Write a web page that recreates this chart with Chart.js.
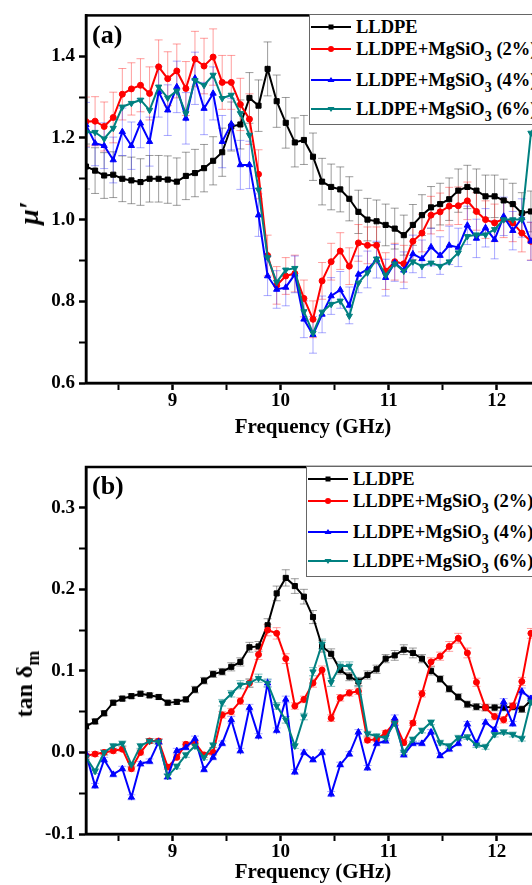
<!DOCTYPE html>
<html>
<head>
<meta charset="utf-8">
<script src="https://cdn.jsdelivr.net/npm/chart.js@4.4.1/dist/chart.umd.min.js"></script>
<style>
  html, body { margin: 0; padding: 0; background: #fff; overflow: hidden; width: 532px; height: 885px; }
  #wrap { position: relative; width: 560px; height: 885px; font-family: 'Liberation Serif', 'Times New Roman', serif; }
  canvas { display: block; }
  .tag { position: absolute; font-weight: bold; font-size: 26px; line-height: 1; }
  .ytitle { position: absolute; font-weight: bold; white-space: nowrap; transform: translate(-50%, -50%) rotate(-90deg); line-height: 1; }
  .ytitle sub { font-size: 18px; vertical-align: -7px; }
  .legend { position: absolute; width: 240px; height: 111px; background: #fff; border: 1px solid #666; box-sizing: border-box; }
  .legend .row { position: absolute; left: 0; height: 20px; display: flex; align-items: center; white-space: nowrap; font-weight: bold; font-size: 18.5px; line-height: 20px; }
  .legend svg { margin-left: 1px; margin-right: 5px; }
  sub { font-size: 14px; vertical-align: -6px; line-height: 0; }
</style>
</head>
<body>
<div id="wrap">
  <canvas id="muChart" width="560" height="442"></canvas>
  <canvas id="tanChart" width="560" height="443"></canvas>
  <div class="tag" style="left:92px; top:22px">(a)</div>
  <div class="tag" style="left:92px; top:473px">(b)</div>
  <div class="ytitle" style="left:29px; top:213px; font-size:28px; font-style:italic">μ′</div>
  <div class="ytitle" style="left:24px; top:684px; font-size:24px">tan δ<sub>m</sub></div>
  <div class="legend" id="legendA" style="left:309px; top:14px"></div>
  <div class="legend" id="legendB" style="left:306px; top:466px"></div>
</div>
<script>
// ── Data ──

const freqGHz = [
  8.200, 8.284, 8.368, 8.452, 8.536, 8.620, 8.704, 8.788, 8.872, 8.956,
  9.040, 9.124, 9.208, 9.292, 9.376, 9.460, 9.544, 9.628, 9.712, 9.796,
  9.880, 9.964, 10.048, 10.132, 10.216, 10.300, 10.384, 10.468, 10.552, 10.636,
  10.720, 10.804, 10.888, 10.972, 11.056, 11.140, 11.224, 11.308, 11.392, 11.476,
  11.560, 11.644, 11.728, 11.812, 11.896, 11.980, 12.064, 12.148, 12.232, 12.316,
  12.400
]

const seriesLabels = ['LLDPE', 'LLDPE+MgSiO3 (2%)', 'LLDPE+MgSiO3 (4%)', 'LLDPE+MgSiO3 (6%)']

// (a) real permeability
const muLLDPE = [
  1.130, 1.120, 1.108, 1.110, 1.100, 1.096, 1.092, 1.100, 1.100, 1.098,
  1.093, 1.107, 1.114, 1.126, 1.144, 1.165, 1.228, 1.233, 1.298, 1.279,
  1.369, 1.290, 1.237, 1.189, 1.195, 1.154, 1.093, 1.080, 1.074, 1.051,
  1.019, 1.000, 0.996, 0.987, 0.978, 0.962, 0.987, 1.011, 1.030, 1.038,
  1.050, 1.071, 1.080, 1.071, 1.057, 1.057, 1.047, 1.038, 1.016, 1.020,
  1.022
]
const muMg2 = [
  1.240, 1.241, 1.228, 1.250, 1.307, 1.320, 1.329, 1.309, 1.374, 1.345,
  1.364, 1.321, 1.393, 1.376, 1.398, 1.336, 1.336, 1.282, 1.246, 1.111,
  0.912, 0.839, 0.862, 0.868, 0.807, 0.756, 0.850, 0.897, 0.923, 0.886,
  0.943, 0.937, 0.937, 0.874, 0.897, 0.892, 0.947, 0.967, 1.011, 1.019,
  1.033, 1.034, 1.046, 1.020, 1.000, 0.992, 1.002, 0.992, 0.967, 0.947,
  0.920
]
const muMg4 = [
  1.232, 1.187, 1.181, 1.146, 1.215, 1.181, 1.236, 1.191, 1.313, 1.268,
  1.325, 1.248, 1.346, 1.272, 1.309, 1.191, 1.234, 1.134, 1.134, 1.011,
  0.862, 0.829, 0.834, 0.866, 0.756, 0.718, 0.768, 0.813, 0.828, 0.790,
  0.866, 0.878, 0.902, 0.858, 0.894, 0.876, 0.916, 0.904, 0.933, 0.912,
  0.937, 0.932, 0.986, 0.954, 0.980, 0.951, 1.008, 0.973, 1.004, 0.947,
  0.930
]
const muMg6 = [
  1.214, 1.214, 1.198, 1.224, 1.276, 1.285, 1.293, 1.268, 1.325, 1.298,
  1.315, 1.260, 1.341, 1.329, 1.354, 1.297, 1.305, 1.260, 1.207, 1.073,
  0.907, 0.847, 0.877, 0.881, 0.775, 0.722, 0.774, 0.793, 0.801, 0.764,
  0.845, 0.870, 0.904, 0.864, 0.892, 0.874, 0.897, 0.886, 0.894, 0.886,
  0.897, 0.919, 0.959, 0.963, 0.963, 0.976, 1.000, 1.000, 1.000, 1.212,
  1.250
]
const muErrLLDPE = [
  0.055, 0.056, 0.056, 0.056, 0.056, 0.057, 0.057, 0.057, 0.057, 0.058,
  0.058, 0.058, 0.058, 0.058, 0.059, 0.059, 0.060, 0.060, 0.062, 0.063,
  0.066, 0.064, 0.062, 0.060, 0.060, 0.058, 0.057, 0.056, 0.055, 0.054,
  0.053, 0.052, 0.052, 0.051, 0.050, 0.049, 0.050, 0.050, 0.051, 0.051,
  0.052, 0.053, 0.053, 0.053, 0.052, 0.052, 0.052, 0.051, 0.050, 0.050,
  0.050
]
const muErrMg2 = [
  0.060, 0.060, 0.060, 0.062, 0.063, 0.064, 0.065, 0.065, 0.066, 0.066,
  0.066, 0.066, 0.068, 0.068, 0.069, 0.066, 0.066, 0.064, 0.062, 0.060,
  0.050, 0.046, 0.045, 0.045, 0.045, 0.045, 0.045, 0.045, 0.045, 0.045,
  0.045, 0.045, 0.045, 0.045, 0.045, 0.045, 0.045, 0.046, 0.046, 0.046,
  0.046, 0.046, 0.046, 0.046, 0.046, 0.046, 0.046, 0.046, 0.046, 0.046,
  0.046
]
const muErrMg4 = [
  0.055, 0.055, 0.056, 0.056, 0.058, 0.058, 0.060, 0.060, 0.062, 0.062,
  0.063, 0.063, 0.064, 0.064, 0.065, 0.064, 0.063, 0.060, 0.058, 0.052,
  0.048, 0.046, 0.045, 0.045, 0.045, 0.045, 0.045, 0.045, 0.045, 0.045,
  0.045, 0.045, 0.045, 0.045, 0.045, 0.045, 0.046, 0.046, 0.046, 0.046,
  0.047, 0.047, 0.047, 0.047, 0.047, 0.047, 0.047, 0.047, 0.047, 0.047,
  0.047
]

// (b) magnetic loss tangent
const tanLLDPE = [
  0.032, 0.038, 0.048, 0.061, 0.066, 0.069, 0.072, 0.070, 0.068, 0.061,
  0.062, 0.065, 0.077, 0.088, 0.096, 0.099, 0.105, 0.111, 0.129, 0.130,
  0.156, 0.195, 0.214, 0.204, 0.191, 0.166, 0.130, 0.121, 0.101, 0.093,
  0.087, 0.095, 0.102, 0.115, 0.119, 0.126, 0.122, 0.115, 0.100, 0.090,
  0.078, 0.068, 0.059, 0.056, 0.055, 0.055, 0.055, 0.056, 0.053, 0.064,
  0.070
]
const tanMg2 = [
  -0.004, -0.002, 0.000, 0.002, 0.004, -0.020, 0.000, 0.014, 0.014, -0.018,
  -0.006, 0.010, 0.012, -0.003, 0.000, 0.046, 0.050, 0.063, 0.085, 0.120,
  0.150, 0.146, 0.115, 0.057, 0.065, 0.085, 0.101, 0.042, 0.067, 0.073,
  0.075, 0.015, 0.016, 0.024, 0.037, 0.012, 0.036, 0.072, 0.111, 0.118,
  0.130, 0.140, 0.122, 0.086, 0.055, 0.044, 0.040, 0.057, 0.087, 0.146,
  0.160
]
const tanMg4 = [
  -0.002, -0.041, -0.009, -0.027, -0.020, -0.055, -0.014, -0.011, 0.013, -0.030,
  0.002, 0.006, 0.017, -0.021, -0.006, 0.011, 0.040, 0.002, 0.055, 0.020,
  0.085, 0.027, 0.065, -0.024, 0.000, -0.009, 0.000, -0.051, -0.015, -0.002,
  0.025, -0.019, 0.011, 0.014, 0.042, -0.003, 0.011, 0.011, 0.025, -0.004,
  0.004, 0.011, 0.035, 0.011, 0.037, 0.028, 0.062, 0.035, 0.075, 0.066,
  0.050
]
const tanMg6 = [
  -0.006, -0.023, 0.000, 0.008, 0.011, -0.015, 0.008, 0.014, 0.013, -0.029,
  -0.017, -0.003, 0.008, -0.006, 0.009, 0.061, 0.072, 0.083, 0.085, 0.091,
  0.085, 0.057, 0.040, 0.008, 0.044, 0.099, 0.133, 0.086, 0.106, 0.106,
  0.086, 0.023, 0.020, 0.018, 0.036, 0.000, 0.016, 0.027, 0.037, 0.012,
  0.008, 0.018, 0.019, 0.009, 0.007, 0.022, 0.025, 0.022, 0.017, 0.062,
  0.070
]
const tanErrLLDPE = [
  0.003, 0.003, 0.003, 0.003, 0.003, 0.003, 0.003, 0.003, 0.003, 0.003,
  0.003, 0.003, 0.004, 0.004, 0.004, 0.004, 0.005, 0.005, 0.006, 0.006,
  0.008, 0.009, 0.010, 0.009, 0.009, 0.008, 0.007, 0.006, 0.005, 0.005,
  0.005, 0.005, 0.005, 0.005, 0.006, 0.006, 0.006, 0.005, 0.005, 0.004,
  0.004, 0.004, 0.004, 0.004, 0.004, 0.004, 0.004, 0.004, 0.004, 0.004,
  0.004
]
const tanErrMg2 = [
  0.003, 0.003, 0.003, 0.003, 0.003, 0.003, 0.003, 0.003, 0.003, 0.003,
  0.003, 0.003, 0.003, 0.003, 0.003, 0.004, 0.004, 0.004, 0.005, 0.006,
  0.007, 0.007, 0.006, 0.004, 0.004, 0.005, 0.005, 0.004, 0.004, 0.004,
  0.004, 0.003, 0.003, 0.003, 0.003, 0.003, 0.003, 0.004, 0.005, 0.005,
  0.006, 0.006, 0.006, 0.005, 0.004, 0.004, 0.004, 0.004, 0.005, 0.006,
  0.006
]
const tanErrMg4 = [
  0.003, 0.003, 0.003, 0.003, 0.003, 0.003, 0.003, 0.003, 0.003, 0.003,
  0.003, 0.003, 0.003, 0.003, 0.003, 0.003, 0.004, 0.003, 0.004, 0.003,
  0.004, 0.003, 0.004, 0.003, 0.003, 0.003, 0.003, 0.003, 0.003, 0.003,
  0.003, 0.003, 0.003, 0.003, 0.004, 0.003, 0.003, 0.003, 0.003, 0.003,
  0.003, 0.003, 0.003, 0.003, 0.003, 0.003, 0.004, 0.003, 0.004, 0.004,
  0.004
]
const tanErrMg6 = [
  0.003, 0.003, 0.003, 0.003, 0.003, 0.003, 0.003, 0.003, 0.003, 0.003,
  0.003, 0.003, 0.003, 0.003, 0.003, 0.004, 0.004, 0.005, 0.005, 0.005,
  0.005, 0.004, 0.004, 0.003, 0.004, 0.005, 0.006, 0.005, 0.005, 0.005,
  0.005, 0.003, 0.003, 0.003, 0.003, 0.003, 0.003, 0.003, 0.003, 0.003,
  0.003, 0.003, 0.003, 0.003, 0.003, 0.003, 0.003, 0.003, 0.003, 0.004,
  0.004
]

const xTicks = [8.5, 9, 9.5, 10, 10.5, 11, 11.5, 12]
const xTickLabels = [9, 10, 11, 12]
const muTicks = [0.6, 0.7, 0.8, 0.9, 1.0, 1.1, 1.2, 1.3, 1.4]
const muTickLabels = [0.6, 0.8, 1.0, 1.2, 1.4]
const tanTicks = [-0.1, -0.05, 0, 0.05, 0.1, 0.15, 0.2, 0.25, 0.3]
const tanTickLabels = [-0.1, 0, 0.1, 0.2, 0.3]

// ── Styling ──

const FONT = "'Liberation Serif', 'Times New Roman', serif"
const seriesStyle = [
  { color: '#000000', errColor: 'rgba(60,60,60,0.5)', point: 'rect', radius: 3.6, rotation: 0 },
  { color: '#ff0000', errColor: 'rgba(255,40,40,0.45)', point: 'circle', radius: 3, rotation: 0 },
  { color: '#0000ff', errColor: 'rgba(40,40,255,0.4)', point: 'triangle', radius: 3.6, rotation: 0 },
  { color: '#008080', errColor: 'rgba(0,128,128,0.5)', point: 'triangle', radius: 3.6, rotation: 180 }
]

const hasValue = (list, v) => list.some(l => Math.abs(l - v) < 1e-9)

// vertical error bars with caps, drawn under the lines
const errorBars = {
  id: 'errorBars',
  beforeDatasetsDraw (chart) {
    const { ctx, chartArea: a, scales: { x, y } } = chart
    ctx.save()
    ctx.beginPath()
    ctx.rect(a.left, a.top, a.right - a.left, a.bottom - a.top)
    ctx.clip()
    ctx.lineWidth = 1
    chart.data.datasets.forEach(ds => {
      if (!ds.errors) return
      ctx.strokeStyle = ds.errorColor
      ds.data.forEach((p, i) => {
        const px = x.getPixelForValue(p.x)
        const top = y.getPixelForValue(p.y + ds.errors[i])
        const bot = y.getPixelForValue(p.y - ds.errors[i])
        ctx.beginPath()
        ctx.moveTo(px, top); ctx.lineTo(px, bot)
        ctx.moveTo(px - 4, top); ctx.lineTo(px + 4, top)
        ctx.moveTo(px - 4, bot); ctx.lineTo(px + 4, bot)
        ctx.stroke()
      })
    })
    ctx.restore()
  }
}

// closed box round the plot area
const frame = {
  id: 'frame',
  afterDatasetsDraw (chart) {
    const { ctx, chartArea: a } = chart
    ctx.save()
    ctx.strokeStyle = '#000'
    ctx.lineWidth = 2.5
    ctx.strokeRect(a.left, a.top, a.right - a.left, a.bottom - a.top)
    ctx.restore()
  }
}

function buildDatasets (values, errors) {
  return values.map((vals, k) => {
    const s = seriesStyle[k]
    return {
      label: seriesLabels[k],
      data: freqGHz.map((f, i) => ({ x: f, y: vals[i] })),
      errors: errors[k],
      errorColor: s.errColor,
      borderColor: s.color,
      backgroundColor: s.color,
      borderWidth: 2,
      pointStyle: s.point,
      pointRadius: s.radius,
      pointRotation: s.rotation,
      pointBorderWidth: 1,
      tension: 0,
      order: 3 - k
    }
  })
}

function makeChart (canvas, datasets, y, padTop, axisHeight, titlePad) {
  return new Chart(canvas, {
    type: 'line',
    data: { datasets },
    options: {
      responsive: false,
      animation: false,
      devicePixelRatio: 1,
      layout: { padding: { top: padTop, right: 20, left: 0, bottom: 0 } },
      plugins: { legend: { display: false }, tooltip: { enabled: false } },
      scales: {
        x: {
          type: 'linear',
          min: 8.2,
          max: 12.4,
          afterBuildTicks: s => { s.ticks = xTicks.map(v => ({ value: v })) },
          afterFit: s => { s.height = axisHeight },
          border: { display: true, color: '#000', width: 2.5 },
          grid: {
            drawOnChartArea: false, tickLength: 7, tickColor: '#000',
            tickWidth: c => (c.tick && hasValue(xTickLabels, c.tick.value) ? 2.5 : 2)
          },
          ticks: {
            color: '#000', padding: 0, maxRotation: 0, autoSkip: false,
            font: { family: FONT, size: 19, weight: 'bold' },
            callback: v => (hasValue(xTickLabels, v) ? String(v) : '')
          },
          title: {
            display: true, text: 'Frequency (GHz)', color: '#000',
            font: { family: FONT, size: 21, weight: 'bold' },
            padding: { top: 0, bottom: titlePad }
          }
        },
        y: {
          min: y.min,
          max: y.max,
          afterBuildTicks: s => { s.ticks = y.ticks.map(v => ({ value: v })) },
          afterFit: s => { s.width = 86 },
          border: { display: true, color: '#000', width: 2.5 },
          grid: {
            drawOnChartArea: false, tickLength: 7, tickColor: '#000',
            tickWidth: c => (c.tick && hasValue(y.labels, c.tick.value) ? 2.5 : 2)
          },
          ticks: {
            color: '#000', padding: 4, autoSkip: false,
            font: { family: FONT, size: 19, weight: 'bold' },
            callback: v => (hasValue(y.labels, v) ? v.toFixed(1) : '')
          }
        }
      }
    },
    plugins: [errorBars, frame]
  })
}

makeChart(
  document.getElementById('muChart'),
  buildDatasets([muLLDPE, muMg2, muMg4, muMg6], [muErrLLDPE, muErrMg2, muErrMg4, null]),
  { min: 0.6, max: 1.5, ticks: muTicks, labels: muTickLabels },
  15, 59, 2
)

makeChart(
  document.getElementById('tanChart'),
  buildDatasets([tanLLDPE, tanMg2, tanMg4, tanMg6], [tanErrLLDPE, tanErrMg2, tanErrMg4, tanErrMg6]),
  { min: -0.1, max: 0.35, ticks: tanTicks, labels: tanTickLabels },
  25, 51, 0
)

// ── Legends (HTML so the subscript 3 stays real text) ──

const legendRowCenters = [12, 34, 65, 94]

function markerSvg (s) {
  let mark = ''
  if (s.point === 'rect') mark = `<rect x="17.5" y="3.5" width="5" height="5" fill="${s.color}"/>`
  else if (s.point === 'circle') mark = `<circle cx="20" cy="6" r="3" fill="${s.color}"/>`
  else if (s.rotation === 180) mark = `<polygon points="16.5,4 23.5,4 20,9" fill="${s.color}"/>`
  else mark = `<polygon points="16.5,8 23.5,8 20,3" fill="${s.color}"/>`
  return `<svg width="40" height="12"><line x1="0" y1="6" x2="40" y2="6" stroke="${s.color}" stroke-width="2"/>${mark}</svg>`
}

function fillLegend (el) {
  el.innerHTML = seriesLabels.map((label, k) =>
    `<div class="row" style="top:${legendRowCenters[k] - 10}px">${markerSvg(seriesStyle[k])}` +
    `<span>${label.replace('O3', 'O<sub>3</sub>')}</span></div>`
  ).join('')
}

fillLegend(document.getElementById('legendA'))
fillLegend(document.getElementById('legendB'))
</script>
</body>
</html>
